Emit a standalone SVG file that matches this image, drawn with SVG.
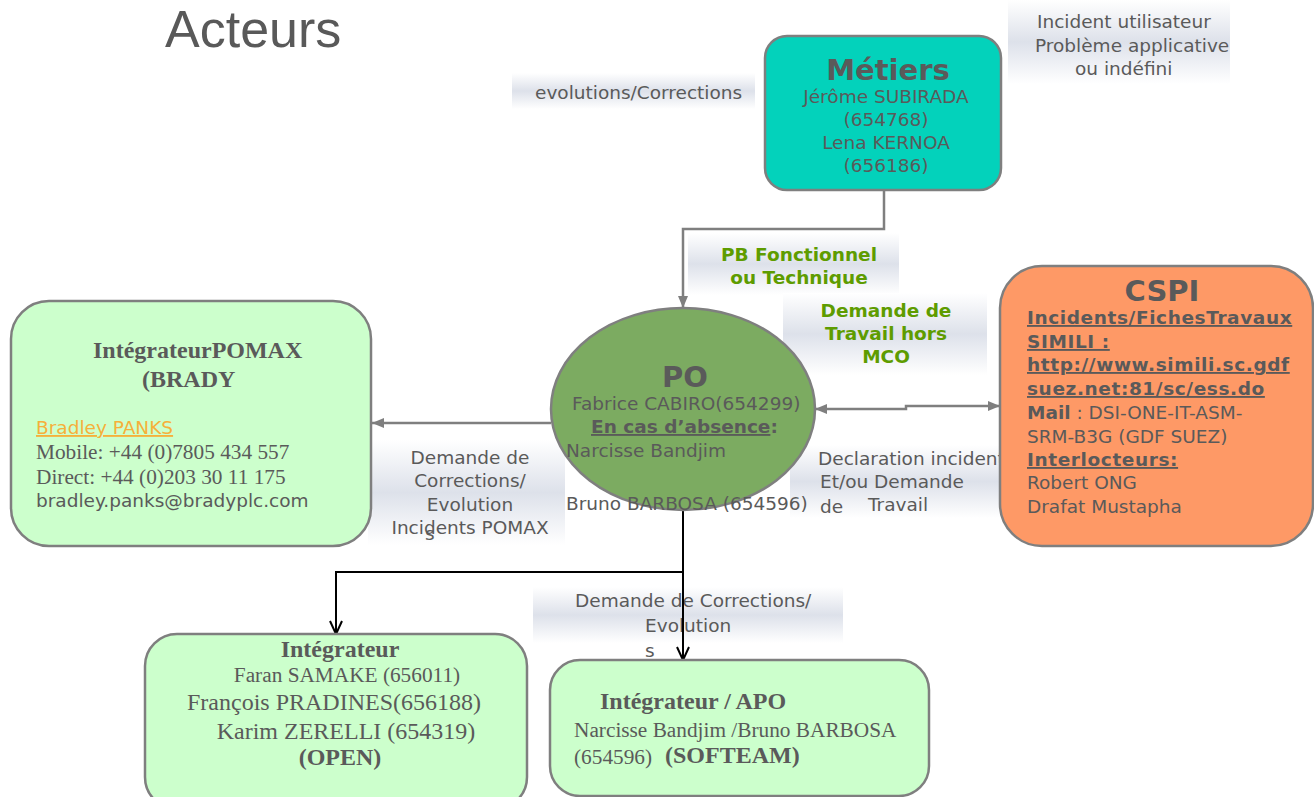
<svg xmlns="http://www.w3.org/2000/svg" width="1314" height="797" viewBox="0 0 1314 797">
  <defs>
    <linearGradient id="band" x1="0" y1="0" x2="0" y2="1">
      <stop offset="0" stop-color="#ffffff"/>
      <stop offset="0.5" stop-color="#dde1ea"/>
      <stop offset="1" stop-color="#ffffff"/>
    </linearGradient>
    <marker id="tri" markerUnits="userSpaceOnUse" markerWidth="12" markerHeight="10" refX="12" refY="5" orient="auto-start-reverse">
      <path d="M0,0 L12,5 L0,10 z" fill="#7f7f7f"/>
    </marker>
    <marker id="vee" markerUnits="userSpaceOnUse" markerWidth="16" markerHeight="16" refX="14" refY="7" orient="auto" overflow="visible">
      <path d="M1,1 L14,7 L1,13" fill="none" stroke="#000" stroke-width="2"/>
    </marker>
    <style>
      .s { font-family: "DejaVu Sans", Verdana, sans-serif; font-size: 18.5px; fill: #5a5a5a; }
      .h { font-size: 29px; font-weight: bold; text-anchor: middle; }
      .b { font-weight: bold; }
      .u { text-decoration: underline; }
      .w { letter-spacing: 0.6px; }
      .t { font-family: "Liberation Serif", "Times New Roman", serif; fill: #5a5a5a; }
      .g { fill: #5e9c00; font-weight: bold; }
      .mid { text-anchor: middle; }
      .node { stroke: #7f7f7f; stroke-width: 2.5; }
      .gray { stroke: #7f7f7f; stroke-width: 2.5; fill: none; }
      .blk { stroke: #000; stroke-width: 2; fill: none; }
      .band { fill: url(#band); }
    </style>
  </defs>

  <rect width="1314" height="797" fill="#ffffff"/>

  <!-- heading -->
  <text x="165" y="47" font-family="Liberation Sans, Arial, sans-serif" font-size="52" fill="#595959">Acteurs</text>

  <!-- flow labels on shaded bands -->
  <g id="labels">
    <rect class="band" x="512" y="73" width="243" height="36"/>
    <text class="s" x="535" y="99">evolutions/Corrections</text>

    <rect class="band" x="1008" y="0" width="222" height="84"/>
    <text class="s" x="1037" y="28">Incident utilisateur</text>
    <text class="s" x="1035" y="52">Problème applicative</text>
    <text class="s" x="1075" y="75">ou indéfini</text>

    <rect class="band" x="688" y="233" width="211" height="62"/>
    <text class="s g mid" x="799" y="261">PB Fonctionnel</text>
    <text class="s g mid" x="799" y="284">ou Technique</text>

    <rect class="band" x="783" y="293" width="204" height="82"/>
    <text class="s g mid" x="886" y="317">Demande de</text>
    <text class="s g mid" x="886" y="340">Travail hors</text>
    <text class="s g mid" x="886" y="363">MCO</text>

    <rect class="band" x="368" y="440" width="197" height="105"/>
    <text class="s mid" x="470" y="464">Demande de</text>
    <text class="s mid" x="470" y="487">Corrections/</text>
    <text class="s mid" x="470" y="511">Evolution</text>
    <text class="s mid" x="470" y="534">Incidents POMAX</text>
    <text class="s" x="425" y="540">s</text>

    <rect class="band" x="790" y="445" width="210" height="73"/>
    <text class="s" x="818" y="465">Declaration incident</text>
    <text class="s" x="820" y="488">Et/ou Demande</text>
    <text class="s" x="820" y="513">de</text>
    <text class="s" x="868" y="511">Travail</text>

    <rect class="band" x="533" y="587" width="310" height="56"/>
    <text class="s" x="575" y="607">Demande de Corrections/</text>
    <text class="s" x="645" y="632">Evolution</text>
    <text class="s" x="645" y="657">s</text>
  </g>

  <!-- connectors -->
  <g id="connectors">
    <path class="gray" d="M884,190 V229 H683 V308" marker-end="url(#tri)"/>
    <path class="gray" d="M551,423 H372" marker-end="url(#tri)"/>
    <path class="gray" d="M815,409 H906 V406 H1000" marker-start="url(#tri)" marker-end="url(#tri)"/>
    <path class="blk" d="M683,510 V660" marker-end="url(#vee)"/>
    <path class="blk" d="M683,572 H336 V634" marker-end="url(#vee)"/>
  </g>

  <!-- Métiers -->
  <g id="metiers">
    <rect class="node" x="765" y="36" width="236" height="154" rx="22" fill="#03d2bb"/>
    <text class="s h" x="888" y="80">Métiers</text>
    <text class="s mid" x="886" y="103">Jérôme SUBIRADA</text>
    <text class="s mid" x="886" y="126">(654768)</text>
    <text class="s mid" x="886" y="149">Lena KERNOA</text>
    <text class="s mid" x="886" y="172">(656186)</text>
  </g>

  <!-- PO -->
  <g id="po">
    <ellipse class="node" cx="683" cy="409" rx="132" ry="101" fill="#7cab61"/>
    <text class="s h" x="685" y="387">PO</text>
    <text class="s" x="572" y="410">Fabrice CABIRO(654299)</text>
    <text class="s" x="591" y="433"><tspan class="b u">En cas d’absence</tspan><tspan class="b">:</tspan></text>
    <text class="s" x="566" y="457">Narcisse Bandjim</text>
    <text class="s" x="566" y="510">Bruno BARBOSA (654596)</text>
  </g>

  <!-- CSPI -->
  <g id="cspi">
    <rect class="node" x="1000" y="266" width="313" height="280" rx="42" fill="#fe9966"/>
    <text class="s h" x="1162" y="301">CSPI</text>
    <text class="s b u w" x="1027" y="324">Incidents/FichesTravaux</text>
    <text class="s b u w" x="1027" y="348">SIMILI :</text>
    <text class="s b u w" x="1027" y="371">http://www.simili.sc.gdf</text>
    <text class="s b u w" x="1027" y="395">suez.net:81/sc/ess.do</text>
    <text class="s" x="1027" y="419"><tspan class="b">Mail</tspan> : DSI-ONE-IT-ASM-</text>
    <text class="s" x="1027" y="443">SRM-B3G (GDF SUEZ)</text>
    <text class="s b u w" x="1027" y="466">Interlocteurs:</text>
    <text class="s" x="1027" y="489">Robert ONG</text>
    <text class="s" x="1027" y="513">Drafat Mustapha</text>
  </g>

  <!-- Intégrateur POMAX -->
  <g id="pomax">
    <rect class="node" x="11" y="301" width="360" height="245" rx="38" fill="#ccffcc"/>
    <text class="t b" x="93" y="358" font-size="24">IntégrateurPOMAX</text>
    <text class="t b" x="142" y="387" font-size="24">(BRADY</text>
    <text class="s u" x="36" y="434" style="fill:#f6b03a">Bradley PANKS</text>
    <text class="t" x="36" y="459" font-size="21.3">Mobile: +44 (0)7805 434 557</text>
    <text class="t" x="36" y="484" font-size="21.3">Direct: +44 (0)203 30 11 175</text>
    <text class="s" x="36" y="507">bradley.panks@bradyplc.com</text>
  </g>

  <!-- Intégrateur OPEN -->
  <g id="open">
    <rect class="node" x="145" y="634" width="382" height="175" rx="32" fill="#ccffcc"/>
    <text class="t b mid" x="340" y="657" font-size="24">Intégrateur</text>
    <text class="t mid" x="347" y="682" font-size="21.3">Faran SAMAKE (656011)</text>
    <text class="t mid" x="334" y="710" font-size="24">François PRADINES(656188)</text>
    <text class="t mid" x="346" y="739" font-size="24">Karim ZERELLI (654319)</text>
    <text class="t b mid" x="340" y="765" font-size="24">(OPEN)</text>
  </g>

  <!-- Intégrateur / APO -->
  <g id="apo">
    <rect class="node" x="550" y="660" width="379" height="136" rx="30" fill="#ccffcc"/>
    <text class="t b" x="600" y="709" font-size="24">Intégrateur / APO</text>
    <text class="t" x="574" y="737" font-size="21.3">Narcisse Bandjim /Bruno BARBOSA</text>
    <text class="t" x="574" y="764" font-size="21.3">(654596)</text>
    <text class="t b" x="665" y="763" font-size="24">(SOFTEAM)</text>
  </g>
</svg>
